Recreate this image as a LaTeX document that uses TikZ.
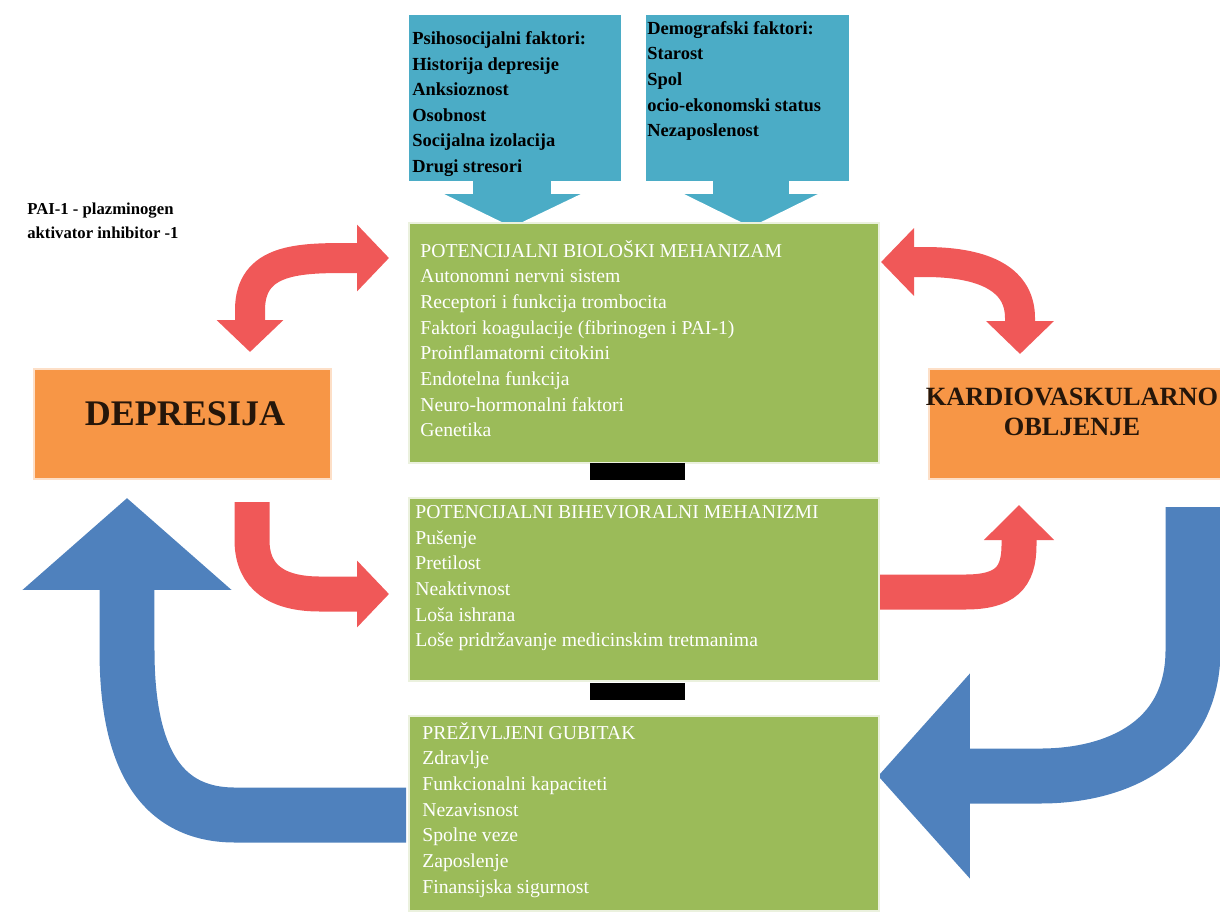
\documentclass[tikz,border=0pt]{standalone}
\usepackage{fontspec}
\setmainfont{Liberation Serif}
\usetikzlibrary{arrows.meta}

\definecolor{boxgreen}{RGB}{155,187,89}
\definecolor{boxblue}{RGB}{75,172,198}
\definecolor{boxorange}{RGB}{247,150,70}
\definecolor{arrowred}{RGB}{240,88,88}
\definecolor{arrowblue}{RGB}{79,129,189}

\tikzset{
  greenbox/.style={fill=boxgreen, draw=white!80!boxgreen, line width=1pt,
    anchor=north west, inner sep=0pt, minimum width=9.4cm},
  orangebox/.style={fill=boxorange, draw=white!70!boxorange, line width=1pt,
    anchor=north west, inner sep=0pt, minimum height=2.2cm},
  bar/.style={fill=black, anchor=north west, inner sep=0pt,
    minimum width=1.9cm, minimum height=0.34cm},
  callout/.style={fill=boxblue, draw=white, line width=1pt},
  greentext/.style={anchor=north west, inner sep=0pt, align=left, text=white,
    font=\fontsize{11.2}{14.6}\selectfont},
  bluetext/.style={anchor=north west, inner sep=0pt, align=left, text=black,
    font=\bfseries\fontsize{10.5}{14.6}\selectfont},
  bigtext/.style={align=center, text=black!85!boxorange, font=\bfseries},
  redarrow/.style={draw=arrowred, line width=#1},
  bluearrow/.style={draw=arrowblue, line width=1.1cm},
}

\begin{document}
\begin{tikzpicture}[x=0.02cm, y=-0.02cm]
  \useasboundingbox (0,0) rectangle (1220,917);

  % block arrows
  \draw[redarrow=0.6cm, {Triangle[length=0.64cm, width=1.3cm]}-{Triangle[length=0.64cm, width=1.3cm]}]
    (250,352) -- (250,310) .. controls (250,258) and (300,258) .. (350,258) -- (389,258);
  \draw[redarrow=0.6cm, {Triangle[length=0.66cm, width=1.32cm]}-{Triangle[length=0.66cm, width=1.32cm]}]
    (881,262) -- (925,262) .. controls (978,262) and (1020,276) .. (1020,318) -- (1020,354);
  \draw[redarrow=0.7cm, -{Triangle[length=0.64cm, width=1.3cm]}]
    (252,502) -- (252,540) .. controls (252,578) and (278,594) .. (320,594) -- (389,594);
  \draw[redarrow=0.7cm, -{Triangle[length=0.7cm, width=1.36cm]}]
    (880,592) -- (965,592) .. controls (1005,592) and (1019,578) .. (1019,545) -- (1019,505);
  \draw[bluearrow, -{Triangle[length=1.84cm, width=4.08cm]}]
    (406,815) -- (235,815) .. controls (150,815) and (127,740) .. (127,650) -- (127,498);
  \draw[bluearrow, -{Triangle[length=1.84cm, width=4.0cm]}]
    (1193,507) -- (1193,650) .. controls (1193,740) and (1120,776) .. (1040,776) -- (878,776);

  % callouts on top
  \draw[callout] (408,14) -- (622,14) -- (622,182) -- (552,182) -- (552,193)
    -- (585,193) -- (512,228) -- (440,193) -- (472,193) -- (472,182) -- (408,182) -- cycle;
  \draw[callout] (645,14) -- (850,14) -- (850,182) -- (790,182) -- (790,193)
    -- (822,193) -- (751,228) -- (680,193) -- (712,193) -- (712,182) -- (645,182) -- cycle;
  \node[bluetext] (psy) at (412,31) {Psihosocijalni faktori:\\Historija depresije\\Anksioznost\\Osobnost\\Socijalna izolacija\\Drugi stresori};
  \node[bluetext] (demo) at (647,21) {Demografski faktori:\\Starost\\Spol\\ocio-ekonomski status\\Nezaposlenost};

  \node[anchor=north west, inner sep=0pt, align=left, font=\bfseries\fontsize{9.5}{13.6}\selectfont]
    (pai) at (27,203) {PAI-1 - plazminogen\\aktivator inhibitor -1};

  % green boxes
  \node[greenbox, minimum height=4.8cm] (bio) at (408,222) {};
  \node[bar] (bar1) at (590,463) {};
  \node[greenbox, minimum height=3.66cm] (beh) at (408,497) {};
  \node[bar] (bar2) at (590,683) {};
  \node[greenbox, minimum height=3.9cm] (loss) at (408,715) {};

  \node[greentext] (biotxt) at (420,240) {POTENCIJALNI BIOLOŠKI MEHANIZAM\\Autonomni nervni sistem\\Receptori i funkcija trombocita\\Faktori koagulacije (fibrinogen i PAI-1)\\Proinflamatorni citokini\\Endotelna funkcija\\Neuro-hormonalni faktori\\Genetika};
  \node[greentext] (behtxt) at (415,505) {POTENCIJALNI BIHEVIORALNI MEHANIZMI\\Pušenje\\Pretilost\\Neaktivnost\\Loša ishrana\\Loše pridržavanje medicinskim tretmanima};
  \node[greentext] (losstxt) at (422,722) {PREŽIVLJENI GUBITAK\\Zdravlje\\Funkcionalni kapaciteti\\Nezavisnost\\Spolne veze\\Zaposlenje\\Finansijska sigurnost};

  % orange boxes
  \node[orangebox, minimum width=5.94cm] (dep) at (33,368) {};
  \node[orangebox, minimum width=5.84cm] (cvd) at (928,368) {};
  \node[bigtext, font=\bfseries\fontsize{20.5}{24}\selectfont] (deptxt) at (185,414) {DEPRESIJA};
  \node[bigtext, font=\bfseries\fontsize{15}{17}\selectfont] (cvdtxt) at (1072,412) {KARDIOVASKULARNO\\OBLJENJE};
\end{tikzpicture}
\end{document}
